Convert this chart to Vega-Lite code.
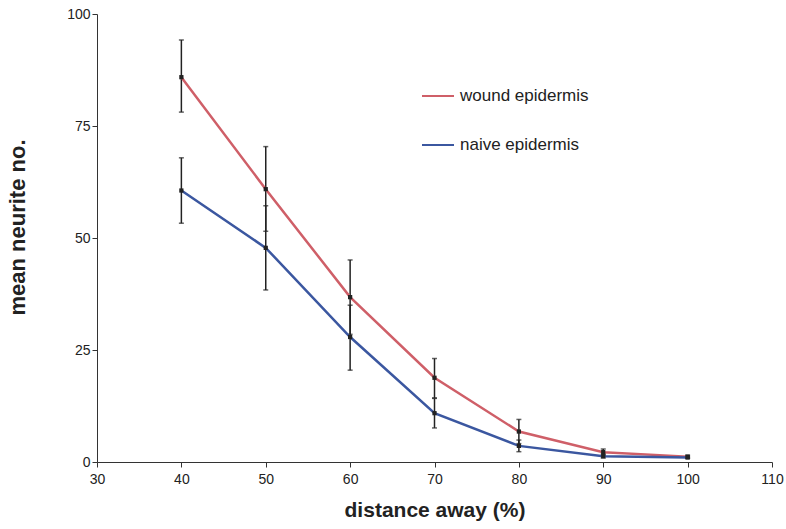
{
  "$schema": "https://vega.github.io/schema/vega-lite/v6.json",
  "width": 675,
  "height": 448,
  "autosize": "none",
  "padding": {"left": 97, "top": 14, "right": 14, "bottom": 67},
  "background": "white",
  "config": {
    "view": {"stroke": null},
    "font": "Liberation Sans",
    "axis": {
      "grid": false,
      "domainColor": "#333",
      "tickColor": "#333",
      "labelColor": "#222",
      "labelFontSize": 14,
      "labelFont": "Liberation Sans",
      "labelFlush": false,
      "titleFont": "Liberation Sans",
      "titleFontWeight": "bold",
      "titleColor": "#222",
      "tickSize": 5
    }
  },
  "data": {
    "values": [
      {"x": 40, "series": "wound epidermis", "mean": 85.9, "lo": 78.1, "hi": 94.2},
      {"x": 50, "series": "wound epidermis", "mean": 60.9, "lo": 51.5, "hi": 70.4},
      {"x": 60, "series": "wound epidermis", "mean": 36.8, "lo": 28.5, "hi": 45.1},
      {"x": 70, "series": "wound epidermis", "mean": 18.8, "lo": 14.3, "hi": 23.1},
      {"x": 80, "series": "wound epidermis", "mean": 6.8, "lo": 4.1, "hi": 9.5},
      {"x": 90, "series": "wound epidermis", "mean": 2.2, "lo": 1.5, "hi": 2.9},
      {"x": 100, "series": "wound epidermis", "mean": 1.2, "lo": 0.9, "hi": 1.5},
      {"x": 40, "series": "naive epidermis", "mean": 60.6, "lo": 53.3, "hi": 67.9},
      {"x": 50, "series": "naive epidermis", "mean": 47.8, "lo": 38.4, "hi": 57.2},
      {"x": 60, "series": "naive epidermis", "mean": 27.9, "lo": 20.5, "hi": 35.0},
      {"x": 70, "series": "naive epidermis", "mean": 10.9, "lo": 7.6, "hi": 14.2},
      {"x": 80, "series": "naive epidermis", "mean": 3.6, "lo": 2.3, "hi": 4.9},
      {"x": 90, "series": "naive epidermis", "mean": 1.3, "lo": 0.9, "hi": 1.8},
      {"x": 100, "series": "naive epidermis", "mean": 1.0, "lo": 0.8, "hi": 1.2}
    ]
  },
  "encoding": {
    "x": {
      "field": "x", "type": "quantitative",
      "scale": {"domain": [30, 110], "nice": false, "zero": false},
      "axis": {"values": [30, 40, 50, 60, 70, 80, 90, 100, 110], "title": "distance away (%)", "titleFontSize": 21, "titlePadding": 13, "labelPadding": 5}
    }
  },
  "layer": [
    {
      "mark": {"type": "rule", "color": "#222", "strokeWidth": 1.5},
      "encoding": {
        "y": {"field": "lo", "type": "quantitative"},
        "y2": {"field": "hi"}
      }
    },
    {
      "mark": {"type": "tick", "color": "#222", "orient": "horizontal", "size": 5, "thickness": 1.5},
      "encoding": {"y": {"field": "lo", "type": "quantitative"}}
    },
    {
      "mark": {"type": "tick", "color": "#222", "orient": "horizontal", "size": 5, "thickness": 1.5},
      "encoding": {"y": {"field": "hi", "type": "quantitative"}}
    },
    {
      "mark": {"type": "line", "strokeWidth": 2.5},
      "encoding": {
        "y": {
          "field": "mean", "type": "quantitative",
          "scale": {"domain": [0, 100], "nice": false},
          "axis": {"values": [0, 25, 50, 75, 100], "title": "mean neurite no.", "titleFontSize": 22, "titlePadding": 37, "titleY": 213}
        },
        "color": {
          "field": "series", "type": "nominal",
          "scale": {"domain": ["wound epidermis", "naive epidermis"], "range": ["#cf5f68", "#3b57a0"]},
          "legend": {
            "title": null,
            "orient": "none",
            "legendX": 324,
            "legendY": 65,
            "symbolType": "stroke",
            "symbolSize": 1024,
            "symbolStrokeWidth": 2,
            "labelFontSize": 17,
            "labelColor": "#222",
            "labelFont": "Liberation Sans",
            "rowPadding": 24,
            "labelOffset": 5
          }
        }
      }
    },
    {
      "mark": {"type": "square", "color": "#222", "size": 18, "opacity": 1},
      "encoding": {"y": {"field": "mean", "type": "quantitative"}}
    }
  ]
}
